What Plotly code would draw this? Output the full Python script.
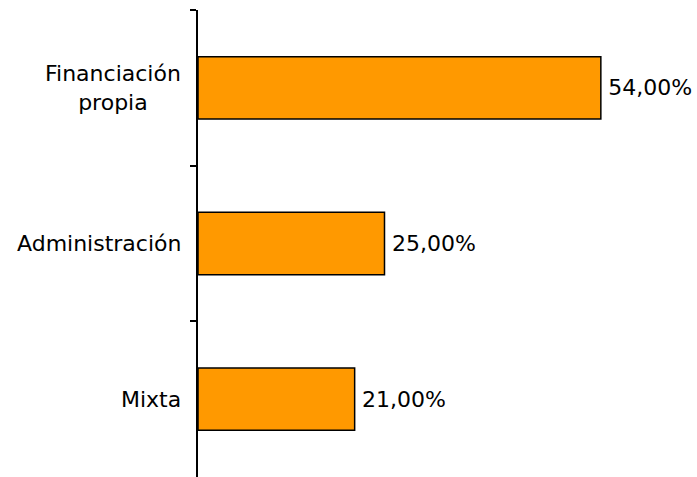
import plotly.graph_objects as go

categories = ["Financiación<br>propia", "Administración", "Mixta"]
values = [54, 25, 21]
labels = ["54,00%", "25,00%", "21,00%"]

fig = go.Figure(go.Bar(
    y=categories, x=values, orientation="h",
    marker=dict(color="#FF9900", line=dict(color="black", width=1.5)),
    text=["\u2009" + t for t in labels], textposition="outside", cliponaxis=False,
    textfont=dict(family="DejaVu Sans", size=22, color="black"),
))
for c in categories:
    fig.add_annotation(x=0, xref="paper", y=c, yref="y", text=c, showarrow=False,
                       xanchor="right", align="center", xshift=-15,
                       font=dict(family="DejaVu Sans", size=22, color="black"))
fig.update_layout(
    width=697, height=477,
    margin=dict(l=198, r=0, t=10, b=0, autoexpand=False),
    paper_bgcolor="white", plot_bgcolor="white",
    bargap=0.6, showlegend=False,
    font=dict(family="DejaVu Sans", size=22, color="black"),
    xaxis=dict(range=[0, 499 / 7.46], visible=False, automargin=False),
    yaxis=dict(autorange="reversed", type="category", showline=True, linecolor="black",
               linewidth=1.5, ticks="outside", tickson="boundaries", ticklen=6,
               tickcolor="black", tickwidth=1.5, showgrid=False, zeroline=False,
               showticklabels=False, automargin=False),
)
fig.write_html("out.html", config={"displayModeBar": False},
               post_script="document.body.style.margin='0';document.body.style.overflow='hidden';")
